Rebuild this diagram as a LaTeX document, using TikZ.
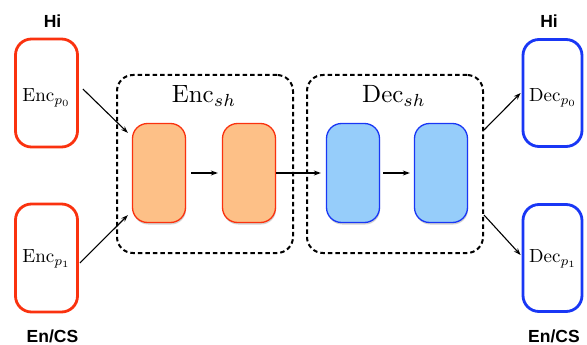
\documentclass[tikz,border=0pt]{standalone}
\usepackage{fontspec}
\newfontfamily\labfont{Liberation Sans}
\usetikzlibrary{arrows.meta,calc,shadows}
\definecolor{encred}{RGB}{250,50,15}
\definecolor{encfill}{RGB}{253,192,135}
\definecolor{decblue}{RGB}{25,55,245}
\definecolor{decfill}{RGB}{150,205,250}
\newcommand{\plab}[1]{\scalebox{1.9}{$#1$}}
\newcommand{\slab}[1]{\scalebox{2.5}{$#1$}}
\tikzset{
  outerenc/.style={draw=encred,line width=2.8pt,rounded corners=16pt,minimum width=62pt,minimum height=108pt,inner sep=0pt,fill=white},
  outerdec/.style={draw=decblue,line width=2.8pt,rounded corners=16pt,minimum width=59pt,minimum height=107pt,inner sep=0pt,fill=white},
  sharebox/.style={draw=black,line width=2pt,dash pattern=on 4.5pt off 3pt,rounded corners=16pt,minimum width=176pt,minimum height=178pt,inner sep=0pt},
  innerenc/.style={draw=encred,fill=encfill,line width=1.3pt,rounded corners=15pt,minimum width=53pt,minimum height=99pt,inner sep=0pt,drop shadow={shadow xshift=0.6pt,shadow yshift=-2pt,opacity=0.3,fill=black!60}},
  innerdec/.style={draw=decblue,fill=decfill,line width=1.3pt,rounded corners=15pt,minimum width=53pt,minimum height=99pt,inner sep=0pt,drop shadow={shadow xshift=0.6pt,shadow yshift=-2pt,opacity=0.3,fill=black!60}},
  conn/.style={-{Stealth[length=7pt,width=5pt]},line width=1.1pt},
  langlab/.style={font=\labfont\bfseries\fontsize{17.5}{20}\selectfont,inner sep=0pt},
  partlab/.style={inner sep=0pt},
  sharelab/.style={inner sep=0pt}
}
\begin{document}
\begin{tikzpicture}[x=1pt,y=-1pt]
\useasboundingbox (0,0) rectangle (587,345);
% shared dashed boxes
\node[sharebox] (encsh) at (205,164) {};
\node[sharebox] (decsh) at (395,164) {};
\node[sharelab] (encshlab) at (204,96) {\slab{\mathrm{Enc}_{sh}}};
\node[sharelab] (decshlab) at (394,96) {\slab{\mathrm{Dec}_{sh}}};
% private boxes
\node[outerenc] (encp0) at (46.5,93) {};
\node[partlab] (encp0t) at (46.5,98) {\plab{\mathrm{Enc}_{p_0}}};
\node[outerenc] (encp1) at (46.5,258) {};
\node[partlab] (encp1t) at (46.5,259) {\plab{\mathrm{Enc}_{p_1}}};
\node[outerdec] (decp0) at (552.5,93) {};
\node[partlab] (decp0t) at (553,98) {\plab{\mathrm{Dec}_{p_0}}};
\node[outerdec] (decp1) at (552.5,258) {};
\node[partlab] (decp1t) at (553,259) {\plab{\mathrm{Dec}_{p_1}}};
% language labels
\node[langlab,anchor=base] (hil) at (52.5,27.5) {Hi};
\node[langlab,anchor=base] (enl) at (52.5,342) {En/CS};
\node[langlab,anchor=base] (hir) at (549,27.5) {Hi};
\node[langlab,anchor=base] (enr) at (554,342) {En/CS};
% inner boxes
\node[innerenc] (o1) at (159,173) {};
\node[innerenc] (o2) at (249,173) {};
\node[innerdec] (b1) at (353,173) {};
\node[innerdec] (b2) at (441,173) {};
% connectors
\draw[conn] ($(encp0.east)+(4,-4)$) -- ($(o1.north west)+(-4,10)$);
\draw[conn] ($(encp1.east)+(1,5)$) -- ($(o1.south west)+(-4,-8)$);
\draw[conn] ($(o1.east)+(5,0)$) -- ($(o2.west)+(-4,0)$);
\draw[conn] (o2.east) -- ($(b1.west)+(-5,0)$);
\draw[conn] ($(b1.east)+(3,0)$) -- ($(b2.west)+(-4,0)$);
\draw[conn] ($(decsh.east)+(0,-34)$) -- ($(decp0.west)+(-1,0)$);
\draw[conn] ($(decsh.east)+(0,51)$) -- ($(decp1.west)+(-1,-3)$);
\end{tikzpicture}
\end{document}
